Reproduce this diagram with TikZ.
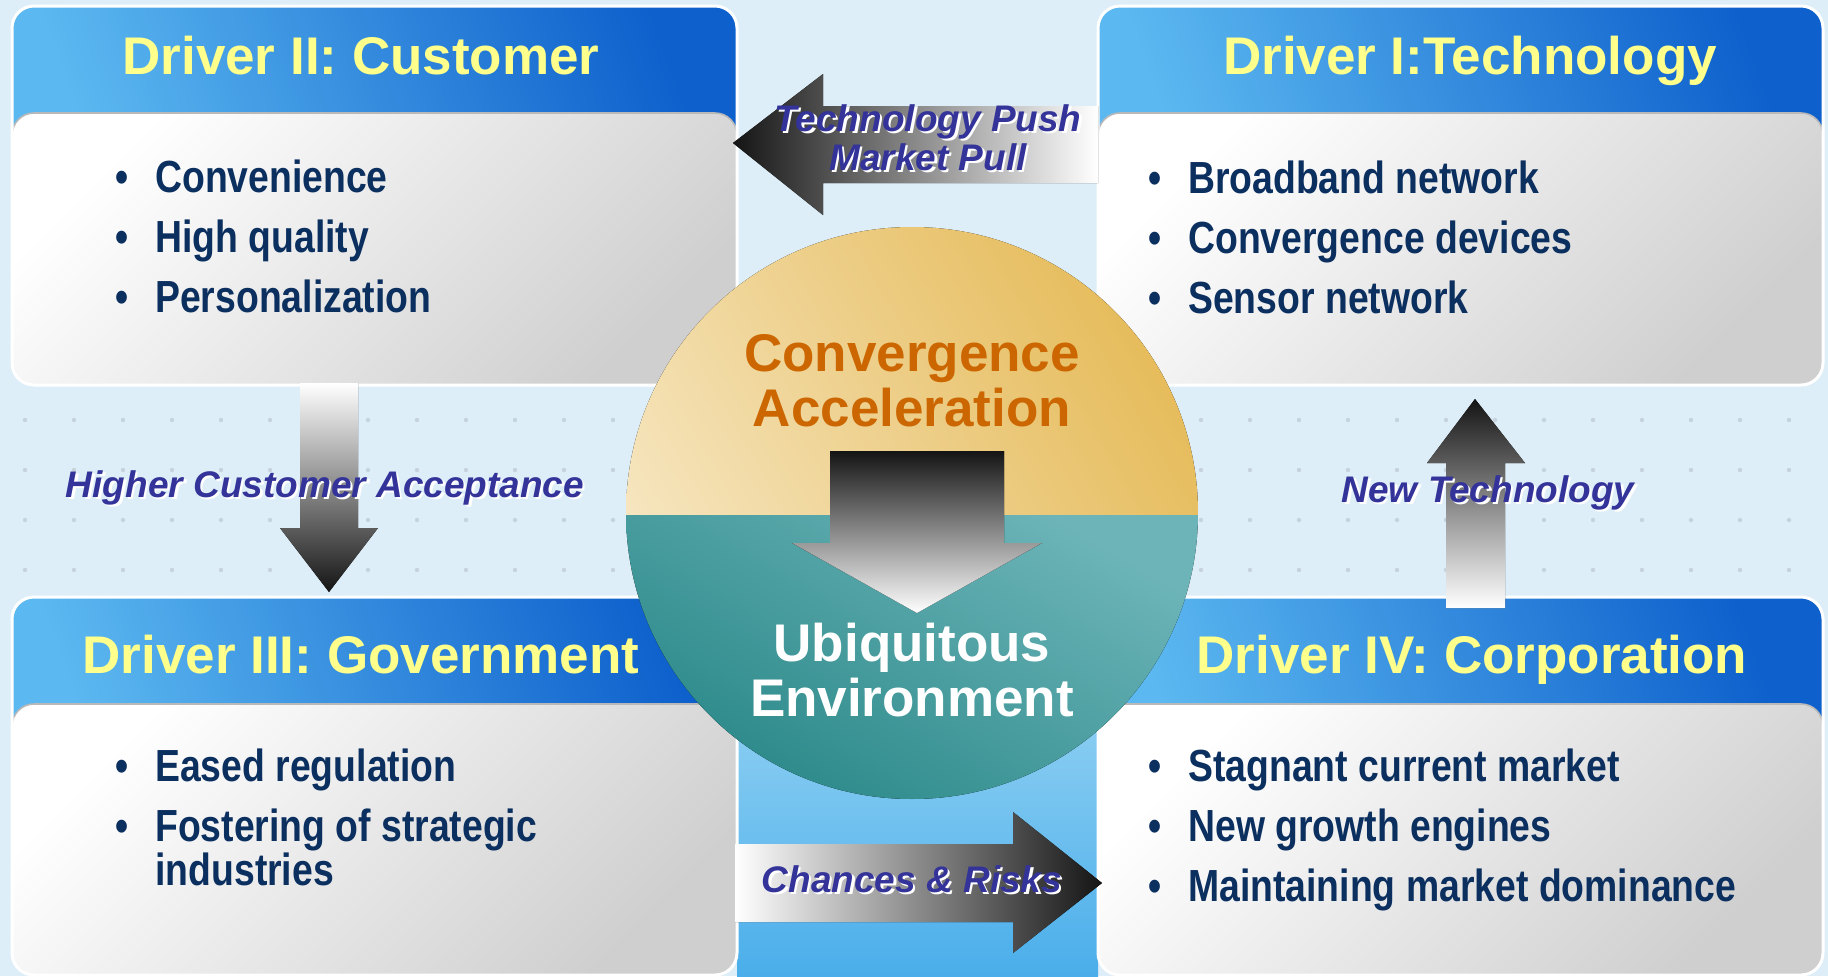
\documentclass[tikz,border=0pt]{standalone}
\usepackage{fontspec}
\setmainfont{Liberation Sans}
\newfontfamily\nrw[FakeStretch=0.83]{Liberation Sans}
\definecolor{bgc}{HTML}{DDEEF8}
\definecolor{dotc}{HTML}{C6D3DD}
\definecolor{colTop}{HTML}{A8DCF6}
\definecolor{colBot}{HTML}{4AAEEA}
\definecolor{hdrHi}{HTML}{0E60CC}
\definecolor{hdrLo}{HTML}{5CB8F0}
\definecolor{bdyLo}{HTML}{CFCFCF}
\definecolor{yel}{HTML}{FFFF8C}
\definecolor{navy}{HTML}{0B2F5F}
\definecolor{lblc}{HTML}{333399}
\definecolor{orng}{HTML}{CC6600}
\definecolor{goldHi}{HTML}{E6BC5C}
\definecolor{goldLo}{HTML}{F7E8C6}
\definecolor{tealHi}{HTML}{6CB4B8}
\definecolor{tealLo}{HTML}{2A8888}
\usetikzlibrary{calc}

\newcommand{\itm}{\makebox[19.7pt][l]{\textbullet}}
\newcommand{\shtxt}[1]{\rlap{\hspace{1.2pt}\raisebox{-1.2pt}{\color{white}#1}}#1}
% one driver panel: left x, top y, bottom y
\newcommand{\drvpanel}[3]{%
  \fill[hdr] (#1,#2) rectangle (#1+725,#2+170);
  \draw[bdy] (#1,#2+107) rectangle (#1+725,#3);
  \draw[rim] (#1,#2) rectangle (#1+725,#3);
}

\begin{document}
\begin{tikzpicture}[x=0.5pt,y=-0.5pt,
    hdr/.style={top color=hdrHi, bottom color=hdrLo, shading angle=-70, rounded corners=11pt},
    bdy/.style={top color=white, bottom color=bdyLo, shading angle=45, rounded corners=11pt,
                draw=gray!55, line width=0.8pt},
    rim/.style={draw=white, line width=1.5pt, rounded corners=11pt},
    hd/.style={anchor=base, inner sep=0pt, text=yel,
               font=\bfseries\fontsize{26.5pt}{30pt}\selectfont},
    bul/.style={anchor=base west, inner sep=0pt, text=navy,
                font=\nrw\bfseries\fontsize{22.5pt}{30pt}\selectfont},
    cvt/.style={align=center, inner sep=0pt,
                font=\bfseries\fontsize{26.5pt}{27.5pt}\selectfont},
    lbl/.style={align=center, inner sep=0pt, text=lblc,
                font=\bfseries\itshape\fontsize{18.5pt}{19.5pt}\selectfont}]

  \useasboundingbox[fill=bgc] (0,0) rectangle (1828,976);
  \foreach \x in {25,74,...,1800}
    \foreach \y in {420,470,520,570}
      \fill[dotc] (\x,\y) circle (1.1pt);
  \fill[top color=colTop, bottom color=colBot] (737,600) rectangle (1098,976);

  % the four drivers
  \drvpanel{12}{6}{385}
  \drvpanel{1098}{6}{385}
  \drvpanel{12}{597}{975}
  \drvpanel{1098}{597}{975}

  \node[hd] (drvII) at (361,74) {Driver II: Customer};
  \node[hd] (drvI) at (1470,74) {Driver I:Technology};
  \node[hd] (drvIII) at (361,673) {Driver III: Government};
  \node[hd] (drvIV) at (1472,673) {Driver IV: Corporation};

  \foreach \t [count=\i] in {Convenience, High quality, Personalization}
    \node[bul] (cu\i) at (115.5,132+60*\i) {\itm\t};
  \foreach \t [count=\i] in {Broadband network, Convergence devices, Sensor network}
    \node[bul] (te\i) at (1148.5,133+60*\i) {\itm\t};
  \node[bul] (gv1) at (115.5,781) {\itm Eased regulation};
  \node[bul] (gv2) at (115.5,841) {\itm Fostering of strategic};
  \node[bul] (gv3) at (155,885) {industries};
  \foreach \t [count=\i] in {Stagnant current market, New growth engines, Maintaining market dominance}
    \node[bul] (cp\i) at (1148.5,721+60*\i) {\itm\t};

  % block arrows between the drivers
  \fill[left color=black!92, middle color=black!40, right color=white]
    (733,143) -- (823,74) -- (823,106) -- (1098,106) -- (1098,183) -- (823,183) -- (823,215) -- cycle;
  \fill[top color=white, middle color=black!25, bottom color=black!92]
    (300,383) -- (358,383) -- (358,528) -- (378,528) -- (329,592) -- (280,528) -- (300,528) -- cycle;
  \fill[top color=black!92, middle color=black!25, bottom color=white]
    (1446,608) -- (1505,608) -- (1505,463) -- (1525,463) -- (1475,399) -- (1427,463) -- (1446,463) -- cycle;
  \fill[left color=white, middle color=black!30, right color=black!92]
    (735,844) -- (1013,844) -- (1013,812) -- (1102,883) -- (1013,953) -- (1013,922) -- (735,922) -- cycle;

  % centre
  \node[circle, minimum size=286pt, inner sep=0pt, path picture={
      \fill[top color=goldHi, bottom color=goldLo, shading angle=-60]
        (path picture bounding box.north west) rectangle ($(path picture bounding box.east)+(0,2)$);
      \fill[top color=tealHi, bottom color=tealLo, shading angle=-30]
        ($(path picture bounding box.west)+(0,2)$) rectangle (path picture bounding box.south east);
    }] (cv) at (912,513) {};
  \fill[top color=black!92, middle color=black!25, bottom color=white]
    (830,451) -- (1004,451) -- (1004,543) -- (1042,543) -- (917,613) -- (792,543) -- (830,543) -- cycle;
  \node[cvt, text=orng] (cvTop) at (912,381) {Convergence\\Acceleration};
  \node[cvt, text=white] (cvBot) at (912,670) {Ubiquitous\\Environment};

  \node[lbl] (tpLbl) at (928,139) {\shtxt{Technology Push}\\\shtxt{Market Pull}};
  \node[lbl, anchor=base] (hcLbl) at (325,497) {\shtxt{Higher Customer Acceptance}};
  \node[lbl, anchor=base] (ntLbl) at (1488,502) {\shtxt{New Technology}};
  \node[lbl, anchor=base] (crLbl) at (912,892) {\shtxt{Chances \& Risks}};

\end{tikzpicture}
\end{document}
